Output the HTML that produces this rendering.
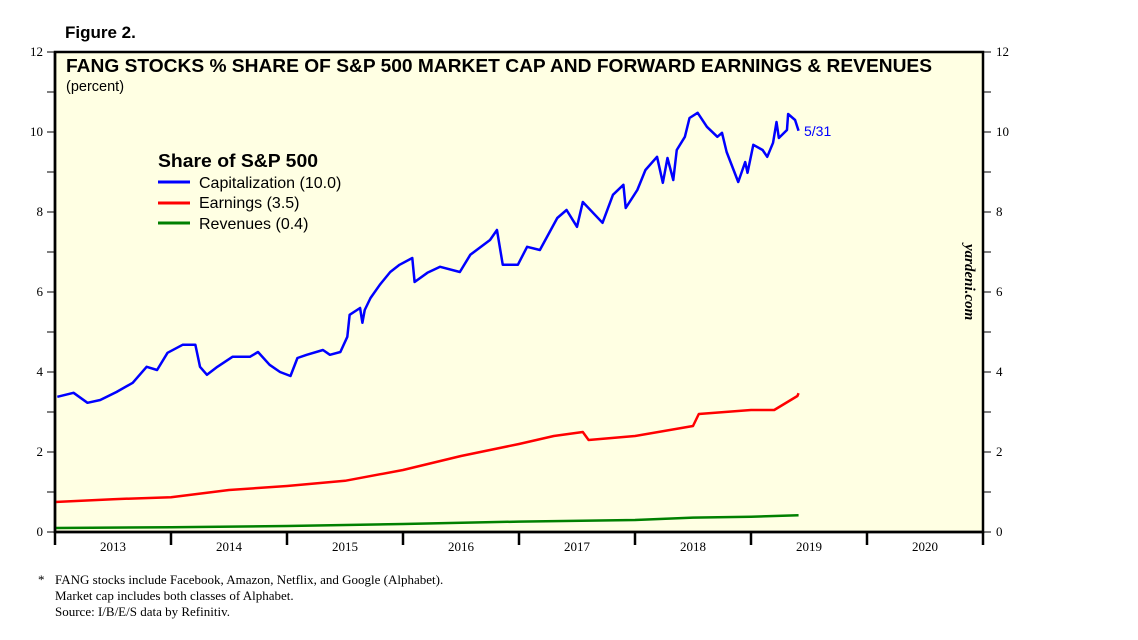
<!DOCTYPE html>
<html><head><meta charset="utf-8"><style>
body{margin:0;background:#fff;width:1138px;height:640px;overflow:hidden}
svg{display:block}
</style></head><body>
<svg id="chart" width="1138" height="640" xmlns="http://www.w3.org/2000/svg">
<text x="65" y="38" font-family="Liberation Sans, sans-serif" font-weight="bold" font-size="17">Figure 2.</text>
<rect x="55" y="52" width="928" height="480" fill="#ffffe3" stroke="#000" stroke-width="2.5"/>
<g id="grid"></g>
<g id="series"></g>
<line x1="55" y1="52" x2="55" y2="533" stroke="#000" stroke-width="2.5"/>
<line x1="54" y1="532" x2="983" y2="532" stroke="#000" stroke-width="2.5"/>
<text x="66" y="72" textLength="866" lengthAdjust="spacingAndGlyphs" font-family="Liberation Sans, sans-serif" font-weight="bold" font-size="18.5">FANG STOCKS % SHARE OF S&amp;P 500 MARKET CAP AND FORWARD EARNINGS &amp; REVENUES</text>
<text x="66" y="91" font-family="Liberation Sans, sans-serif" font-size="14.5">(percent)</text>
<g font-family="Liberation Sans, sans-serif">
<text x="158" y="167" textLength="160" lengthAdjust="spacingAndGlyphs" font-weight="bold" font-size="18">Share of S&amp;P 500</text>
<line x1="158" y1="182" x2="190" y2="182" stroke="#0000ff" stroke-width="3"/>
<text x="199" y="188" font-size="16">Capitalization (10.0)</text>
<line x1="158" y1="203" x2="190" y2="203" stroke="#ff0000" stroke-width="3"/>
<text x="199" y="208" font-size="16">Earnings (3.5)</text>
<line x1="158" y1="223" x2="190" y2="223" stroke="#008000" stroke-width="3"/>
<text x="199" y="229" font-size="16">Revenues (0.4)</text>
</g>
<text x="804" y="136" font-family="Liberation Sans, sans-serif" font-size="14" fill="#0000ff">5/31</text>
<text transform="translate(965,244) rotate(90)" font-family="Liberation Serif, serif" font-style="italic" font-weight="bold" font-size="15">yardeni.com</text>
<g font-family="Liberation Serif, serif" font-size="13">
<text x="38" y="584">*</text>
<text x="55" y="584">FANG stocks include Facebook, Amazon, Netflix, and Google (Alphabet).</text>
<text x="55" y="600">Market cap includes both classes of Alphabet.</text>
<text x="55" y="616">Source: I/B/E/S data by Refinitiv.</text>
</g>
</svg>
<script>
const yTicks=[0,2,4,6,8,10,12];
const years=[2013,2014,2015,2016,2017,2018,2019,2020];
const capDates=[2013.02,2013.16,2013.28,2013.39,2013.53,2013.67,2013.79,2013.88,2013.97,2014.10,2014.21,2014.25,2014.31,2014.40,2014.53,2014.68,2014.75,2014.85,2014.94,2015.03,2015.09,2015.17,2015.31,2015.37,2015.46,2015.52,2015.54,2015.63,2015.65,2015.67,2015.72,2015.80,2015.89,2015.97,2016.08,2016.10,2016.21,2016.32,2016.49,2016.58,2016.75,2016.81,2016.86,2016.99,2017.07,2017.18,2017.33,2017.41,2017.50,2017.55,2017.72,2017.81,2017.90,2017.92,2018.02,2018.09,2018.19,2018.24,2018.28,2018.33,2018.36,2018.43,2018.47,2018.54,2018.62,2018.71,2018.75,2018.79,2018.89,2018.95,2018.97,2019.02,2019.10,2019.14,2019.19,2019.22,2019.24,2019.31,2019.32,2019.38,2019.41];
const capValues=[3.38,3.48,3.23,3.3,3.5,3.73,4.13,4.05,4.48,4.68,4.68,4.13,3.93,4.13,4.38,4.38,4.5,4.18,4.0,3.9,4.35,4.43,4.55,4.43,4.5,4.88,5.43,5.6,5.23,5.55,5.85,6.18,6.5,6.68,6.85,6.25,6.48,6.63,6.5,6.93,7.3,7.55,6.68,6.68,7.13,7.05,7.85,8.05,7.63,8.25,7.73,8.43,8.68,8.1,8.55,9.05,9.38,8.73,9.35,8.8,9.55,9.88,10.35,10.48,10.13,9.88,9.98,9.5,8.75,9.25,8.98,9.68,9.55,9.38,9.73,10.25,9.85,10.05,10.45,10.3,10.03];
const earnDates=[2013.0,2013.5,2014.0,2014.5,2015.0,2015.5,2016.0,2016.5,2017.0,2017.3,2017.55,2017.6,2018.0,2018.5,2018.55,2019.0,2019.2,2019.4,2019.41];
const earnValues=[0.75,0.82,0.87,1.05,1.15,1.28,1.55,1.9,2.2,2.4,2.5,2.3,2.4,2.65,2.95,3.05,3.05,3.4,3.47];
const revDates=[2013.0,2014.0,2015.0,2016.0,2017.0,2018.0,2018.5,2019.0,2019.41];
const revValues=[0.1,0.12,0.15,0.2,0.26,0.3,0.36,0.38,0.42];
const NS='http://www.w3.org/2000/svg';
const x=d=>55+(d-2013)*116;
const y=v=>532-v*40;
const grid=document.getElementById('grid'),ser=document.getElementById('series');
function mk(t,a,p){const e=document.createElementNS(NS,t);for(const k in a)e.setAttribute(k,a[k]);p.appendChild(e);return e;}
for(let v=0;v<=12;v++){
  const l=mk('line',{x1:47,x2:55,y1:y(v),y2:y(v),stroke:'#000','stroke-width':1},grid);
  
  
  const r=mk('line',{x1:983,x2:991,y1:y(v),y2:y(v),stroke:'#000','stroke-width':1},grid);
  
  
}
yTicks.forEach(v=>{
  const t=mk('text',{x:43,y:y(v)+4,'text-anchor':'end','font-family':'Liberation Serif, serif','font-size':13},grid);t.textContent=v;
  
  
  const t2=mk('text',{x:996,y:y(v)+4,'font-family':'Liberation Serif, serif','font-size':13},grid);t2.textContent=v;
  
  
});
for(let yr=2013;yr<=2021;yr++){
  const l=mk('line',{x1:x(yr),x2:x(yr),y1:532,y2:545,stroke:'#000','stroke-width':2.5},grid);
  
  
}
years.forEach(yr=>{
  const t=mk('text',{x:x(yr+0.5),y:551,'text-anchor':'middle','font-family':'Liberation Serif, serif','font-size':13},grid);t.textContent=yr;
  
  
});
function line(ds,vs,c,name){
  const p=mk('polyline',{points:ds.map((d,i)=>x(d)+','+y(vs[i])).join(' '),fill:'none',stroke:c,'stroke-width':2.5,'stroke-linejoin':'round'},ser);
  
  
}
line(revDates,revValues,'#008000','revenues-line');
line(earnDates,earnValues,'#ff0000','earnings-line');
line(capDates,capValues,'#0000ff','capitalization-line');
</script>
</body></html>
